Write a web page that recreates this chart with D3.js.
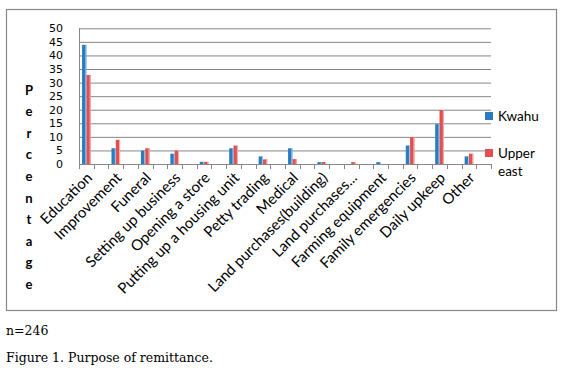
<!DOCTYPE html>
<html>
<head>
<meta charset="utf-8">
<script src="https://cdn.jsdelivr.net/npm/d3@7"></script>
<style>
  body { margin: 0; background: #fff; }
</style>
</head>
<body>
<div class="chart"></div>
<script>
// data
const categories = ["Education", "Improvement", "Funeral", "Setting up business", "Opening a store",
  "Putting up a housing unit", "Petty trading", "Medical", "Land purchases(building)", "Land purchases...",
  "Farming equipment", "Family emergencies", "Daily upkeep", "Other"]
const kwahu = [43.9, 5.8, 4.9, 3.8, 0.8, 5.8, 2.8, 5.8, 0.7, 0, 0.7, 6.8, 14.7, 2.8]
const upperEast = [32.8, 8.9, 5.8, 4.9, 0.8, 6.8, 1.7, 1.8, 0.7, 0.7, 0, 9.9, 19.9, 3.8]
const seriesNames = ["Kwahu", "Upper east"]
const yTicks = [0, 5, 10, 15, 20, 25, 30, 35, 40, 45, 50]

let width = 564, height = 373
let blue = "#2b7bc1", red = "#e05050"
let grid = "#878787"

let svg = d3.select(".chart").append("svg")
  .attr("width", width)
  .attr("height", height)

// outer frame
svg.append("rect")
  .attr("x", 6.5).attr("y", 9.5)
  .attr("width", 550).attr("height", 301)
  .attr("fill", "none").attr("stroke", grid).attr("stroke-width", 1.2)

let plotL = 79, plotR = 491, plotT = 28.3, plotB = 164
let x = d3.scaleBand().domain(categories).range([plotL, plotR])
let y = d3.scaleLinear().domain([0, 50]).range([plotB, plotT])
let bw = 4.3 // bar width

// gridlines
svg.append("g").selectAll("line")
  .data(yTicks.slice(1))
  .enter().append("line")
  .attr("x1", plotL).attr("x2", plotR)
  .attr("y1", d => y(d) + 0.5).attr("y2", d => y(d) + 0.5)
  .attr("stroke", grid).attr("stroke-width", 1)

// y tick labels
svg.append("g").selectAll("text")
  .data(yTicks)
  .enter().append("text")
  .attr("x", 63).attr("y", d => y(d))
  .attr("dy", "0.36em")
  .attr("text-anchor", "end")
  .attr("font-family", "DejaVu Sans, Verdana, sans-serif")
  .attr("font-size", 11)
  .text(d => d)

// bars: cluster sits in the left half of each band
let cx = d => x(d) + x.bandwidth() / 4
let barG = svg.append("g")
barG.selectAll(".kw")
  .data(categories)
  .enter().append("rect")
  .attr("x", (d) => cx(d) - bw)
  .attr("y", (d, i) => y(kwahu[i]))
  .attr("width", bw)
  .attr("height", (d, i) => plotB - y(kwahu[i]))
  .attr("fill", blue)
barG.selectAll(".ue")
  .data(categories)
  .enter().append("rect")
  .attr("x", (d) => cx(d))
  .attr("y", (d, i) => y(upperEast[i]))
  .attr("width", bw)
  .attr("height", (d, i) => plotB - y(upperEast[i]))
  .attr("fill", red)
// light right edge like the original
barG.selectAll(".edge")
  .data(categories.flatMap((d, i) => [[d, kwahu[i], 0, "#a9cbe9"], [d, upperEast[i], 1, "#f3b5b5"]]))
  .enter().append("rect")
  .attr("x", d => cx(d[0]) - bw + d[2] * bw + bw - 1)
  .attr("y", d => y(d[1]))
  .attr("width", 1)
  .attr("height", d => plotB - y(d[1]))
  .attr("fill", d => d[3])

// axes lines
svg.append("line")
  .attr("x1", plotL + 0.5).attr("x2", plotL + 0.5)
  .attr("y1", plotT).attr("y2", plotB + 5)
  .attr("stroke", grid)
svg.append("line")
  .attr("x1", plotL).attr("x2", plotR)
  .attr("y1", plotB + 0.5).attr("y2", plotB + 0.5)
  .attr("stroke", grid)
// category tick marks every half band
let half = d3.range(categories.length * 2 + 1).map(i => plotL + i * x.bandwidth() / 2)
svg.append("g").selectAll("line")
  .data(half)
  .enter().append("line")
  .attr("x1", d => Math.round(d) + 0.5).attr("x2", d => Math.round(d) + 0.5)
  .attr("y1", plotB).attr("y2", plotB + 5)
  .attr("stroke", grid)

// category labels
svg.append("g").selectAll("text")
  .data(categories)
  .enter().append("text")
  .attr("font-family", "Lato, sans-serif")
  .attr("font-size", 15)
  .attr("text-anchor", "end")
  .attr("transform", d => `translate(${cx(d) + 3},${plotB + 11}) rotate(-45)`)
  .attr("dy", "0.35em")
  .text(d => d)

// vertical axis title, one letter per line
svg.append("g").selectAll("text")
  .data("Percentage".split(""))
  .enter().append("text")
  .attr("x", 29).attr("y", (d, i) => 90 + i * 21.6)
  .attr("dy", "0.35em")
  .attr("text-anchor", "middle")
  .attr("font-family", "Lato, sans-serif")
  .attr("font-weight", "bold")
  .attr("font-size", 13)
  .text(d => d)

// legend
let legend = svg.append("g")
legend.append("rect").attr("x", 485).attr("y", 112).attr("width", 8).attr("height", 8).attr("fill", blue)
legend.append("rect").attr("x", 485).attr("y", 149).attr("width", 8).attr("height", 8).attr("fill", red)
legend.append("text").attr("x", 498).attr("y", 120.5)
  .attr("font-family", "Lato, sans-serif").attr("font-size", 13.5).text(seriesNames[0])
legend.append("text").attr("x", 498).attr("y", 157.5)
  .attr("font-family", "Lato, sans-serif").attr("font-size", 13.5).text("Upper")
legend.append("text").attr("x", 498).attr("y", 175.5)
  .attr("font-family", "Lato, sans-serif").attr("font-size", 13.5).text("east")

// caption below the frame
svg.append("text").attr("x", 6).attr("y", 334.5)
  .attr("font-family", "DejaVu Serif, serif").attr("font-size", 12.5).text("n=246")
svg.append("text").attr("x", 6).attr("y", 361.5)
  .attr("font-family", "DejaVu Serif, serif").attr("font-size", 12.5).text("Figure 1. Purpose of remittance.")
</script>
</body>
</html>
